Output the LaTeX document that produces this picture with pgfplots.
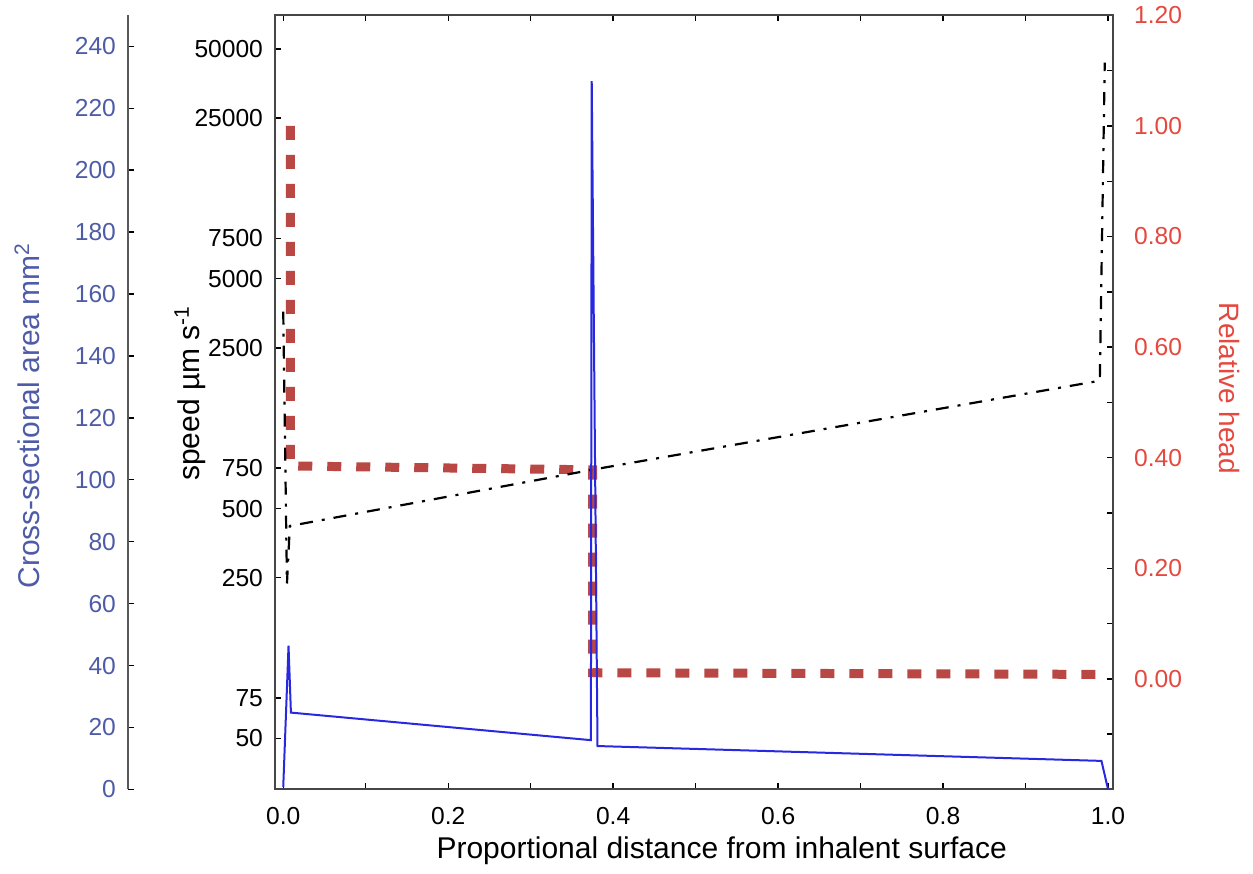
\documentclass[border=0pt]{standalone}
\usepackage{pgfplots}
\pgfplotsset{compat=1.18}
\usepackage{fontspec}
\setmainfont{Liberation Sans}

\definecolor{areablue}{RGB}{78,92,168}
\definecolor{lineblue}{RGB}{40,40,225}
\definecolor{headred}{RGB}{228,72,62}
\definecolor{dashred}{RGB}{185,72,68}
\definecolor{framegray}{RGB}{70,70,70}

\pgfplotsset{
  base/.style={
    scale only axis, width=419pt, height=387pt,
    at={(0,0)}, anchor=south west,
    xmin=-0.01, xmax=1.006,
    tick align=inside,
    major tick length=3pt, minor tick length=3pt,
    /pgf/number format/assume math mode=true,
    tick label style={font=\fontsize{12.3}{14}\selectfont},
    label style={font=\fontsize{15}{18}\selectfont},
    axis line style={framegray, line width=0.9pt},
    tick style={black, line width=0.7pt},
  },
}

\begin{document}
\begin{tikzpicture}
% outer axis: cross-sectional area
\begin{axis}[base, at={(-73.5pt,0)}, width=1pt, xmin=0, xmax=1,
  hide x axis, axis y line*=left,
  y axis line style={-, draw=gray!70!black},
  ymin=0, ymax=250, ytick={0,20,...,240},
  yticklabel style={areablue, xshift=-2.5pt},
  ylabel={Cross-sectional area mm\textsuperscript{2}},
  ylabel style={areablue, at={(axis description cs:-50.5,0.483)}, anchor=center}]
\end{axis}

% right axis: relative head
\begin{axis}[base, hide x axis, axis y line*=right,
  y axis line style={-},
  ymin=-0.2, ymax=1.2,
  ytick={0,0.2,0.4,0.6,0.8,1.0,1.2},
  yticklabels={0.00,0.20,0.40,0.60,0.80,1.00,1.20},
  minor ytick={-0.1,0.1,0.3,0.5,0.7,0.9,1.1},
  yticklabel style={headred, xshift=7pt},
  ylabel={Relative head},
  ylabel style={headred, font=\fontsize{14}{16}\selectfont, at={(axis description cs:1.1396,0.518)}, anchor=center, rotate=-180}]
\addplot[dashred, line width=4.5pt, dash pattern=on 7pt off 7.5pt] coordinates {
  (0.0085,1.0) (0.0085,0.385) (0.375,0.378) (0.375,0.011) (0.99,0.008) (1.0,0.0)};
\end{axis}

% main axis: speed (log)
\begin{axis}[base, ymode=log, ymin=30, ymax=70000,
  ytick={50,75,250,500,750,2500,5000,7500,25000,50000},
  yticklabels={50,75,250,500,750,2500,5000,7500,25000,50000},
  yminorticks=false, ytick pos=left,
  yticklabel style={xshift=-2.5pt},
  xtick={0,0.1,0.2,0.3,0.4,0.5,0.6,0.7,0.8,0.9,1},
  xticklabels={0.0,,0.2,,0.4,,0.6,,0.8,,1.0},
  xticklabel style={yshift=-5.5pt},
  xlabel={Proportional distance from inhalent surface},
  xlabel style={at={(axis description cs:0.533,-0.0795)}, anchor=center},
  ylabel={speed µm s\textsuperscript{-1}},
  ylabel style={at={(axis description cs:-0.1014,0.512)}, anchor=center}]
\addplot[black, line width=1.1pt, dash pattern=on 6.5pt off 4.5pt on 1.5pt off 4.5pt] coordinates {
  (0,3600) (0.0045,236) (0.008,420) (0.382,746) (0.990,1800) (0.996,43600)};
\end{axis}

% blue: cross-sectional area data
\begin{axis}[base, hide axis, ymin=0, ymax=250]
\addplot[lineblue, line width=1pt] coordinates {
  (0,0.8) (0.0064,46.4) (0.0093,24.8) (0.373,15.9) (0.374,228.8) (0.381,14.0) (0.992,9.2) (1.0,0)};
\end{axis}

\useasboundingbox (-137.5pt,-42pt) rectangle (489pt,394.5pt);
\end{tikzpicture}
\end{document}
